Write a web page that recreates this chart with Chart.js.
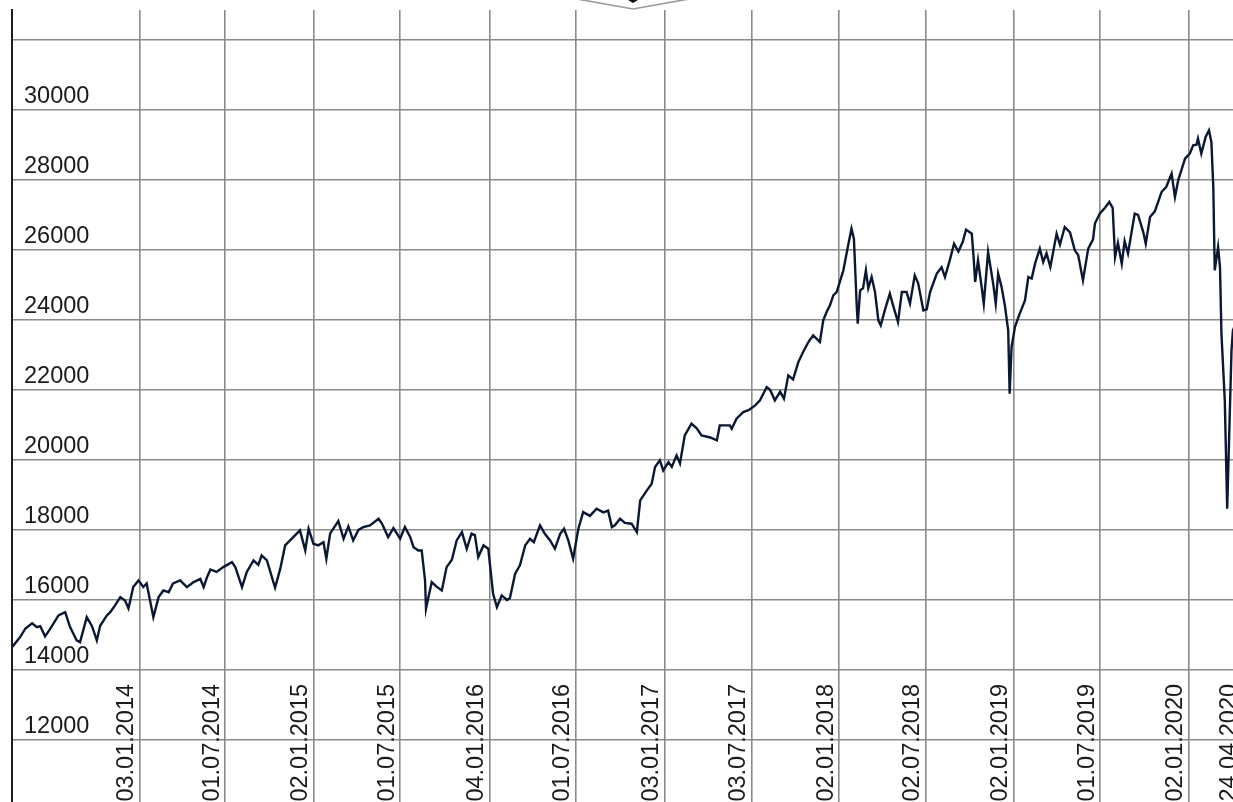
<!DOCTYPE html>
<html><head><meta charset="utf-8">
<script src="https://cdn.jsdelivr.net/npm/chart.js@4.4.1/dist/chart.umd.min.js"></script>
<style>
html,body{margin:0;padding:0;background:#fff;overflow:hidden;width:1233px;height:802px}
#wrap{position:absolute;left:0;top:0;width:1250px;height:810px}
</style>
</head><body>
<div id="wrap"><canvas id="c" width="1250" height="810"></canvas></div>
<script>
// x values: days since 03.01.2014
const baseDate = '03.01.2014';
const dayOffsets = [
-266,-249,-238,-224,-214,-207,-197,-186,-169,-155,-145,-131,-124,-110,-99,-89,-82,-68,-61,-51,-40,-30,-23,-13,-2,
8,15,29,40,50,61,70,85,99,113,127,134,141,148,161,175,193,200,214,224,238,248,255,266,283,294,304,321,335,346,353,
363,373,384,390,398,415,426,436,446,457,467,481,499,506,519,530,544,554,565,572,582,589,596,598,603,610,620,631,641,
652,662,673,683,693,700,707,718,728,732,738,746,756,767,773,784,794,805,815,823,836,846,857,867,878,886,895,905,916,
926,940,954,968,978,986,992,1003,1013,1027,1038,1045,1059,1069,1076,1086,1093,1104,1111,1121,1128,1138,1152,1163,
1173,1191,1205,1211,1232,1236,1246,1260,1271,1285,1295,1309,1316,1326,1337,1345,1354,1364,1375,1385,1396,1406,1420,
1427,1434,1441,1448,1455,1469,1479,1486,1491,1497,1499,1504,1510,1516,1521,1528,1535,1542,1547,1556,1566,1573,1583,
1591,1601,1608,1618,1625,1636,1643,1650,1664,1674,1681,1691,1700,1709,1718,1725,1737,1741,1744,1750,1757,1762,1771,
1782,1787,1792,1799,1806,1813,1816,1820,1827,1837,1848,1855,1862,1869,1879,1886,1893,1901,1914,1921,1931,1942,1952,
1959,1969,1980,1990,1994,2004,2015,2024,2031,2036,2042,2050,2056,2063,2077,2084,2095,2100,2109,2119,2133,2143,2154,
2161,2168,2182,2192,2199,2206,2209,2216,2225,2232,2237,2241,2244,2251,2255,2258,2265,2270,2279,2282,2288,2296,2303
];
const values = [
14650,14940,15185,15330,15220,15250,14960,15180,15557,15650,15230,14843,14794,15508,15250,14843,15260,15557,15650,15843,16080,15980,15757,16366,16557,
16370,16470,15508,16080,16271,16220,16471,16557,16366,16510,16600,16366,16650,16870,16800,16937,17080,16937,16366,16800,17128,17000,17271,17128,16348,16900,17557,17794,17985,17414,18034,
17605,17560,17650,17177,17900,18251,17748,18100,17700,18000,18080,18130,18320,18180,17794,18050,17748,18080,17800,17508,17414,17414,16557,15748,16080,16509,16380,16271,16937,
17150,17700,17937,17462,17891,17850,17223,17557,17462,16937,16177,15794,16128,16000,16050,16748,16986,17557,17748,17650,18128,17891,17700,17462,17891,18034,17700,17177,18034,
18508,18400,18605,18500,18550,18080,18130,18320,18200,18177,17937,18843,19128,19320,19794,19985,19700,19937,19800,20128,19900,20700,21034,20900,
20700,20640,20557,20985,20985,20891,21177,21366,21420,21557,21700,22080,22000,21700,21950,21748,22414,22300,22794,23080,23366,23557,23366,
23985,24223,24414,24700,24794,25414,26128,26605,26320,24366,23891,24843,24900,25414,24900,25223,24800,23985,23843,24300,24748,24400,23937,
24794,24794,24462,25271,25050,24271,24300,24794,25320,25500,25223,25700,26177,25950,26220,26577,26462,25748,25080,25700,25000,24462,25937,
25000,24462,25320,24950,24414,23700,21891,23223,23794,24177,24557,25223,25180,25605,26034,25651,25900,25508,26462,26150,26651,26500,25985,
25850,25128,26034,26300,26749,27034,27200,27366,27200,25794,26200,25605,26250,25900,27034,27000,26500,26177,26937,27100,27651,27800,28177,
27508,28000,28605,28748,28985,29000,29177,28748,29223,29414,29080,27794,25414,26080,25508,23605,21700,18605,23128,23700,23900,24240,23775
];
const xTickLabels = ['03.01.2014','01.07.2014','02.01.2015','01.07.2015','04.01.2016','01.07.2016','03.01.2017',
  '03.07.2017','02.01.2018','02.07.2018','02.01.2019','01.07.2019','02.01.2020','24.04.2020'];
const yTickValues = [12000,14000,16000,18000,20000,22000,24000,26000,28000,30000,32000];
const yTickLabels = ['12000','14000','16000','18000','20000','22000','24000','26000','28000','30000',''];

function parseDay(s){ const [d,m,y]=s.split('.').map(Number); return Date.UTC(y,m-1,d)/86400000; }
const base = parseDay(baseDate);
const xTickDays = xTickLabels.map(s => parseDay(s) - base);

const points = dayOffsets.map((d,i) => ({x: d, y: values[i]}));
const font = {family: "'Liberation Sans', Arial, sans-serif", size: 23.5};
const gridColor = '#8a8a8a';
const noPad = s => { s.paddingLeft = 0; s.paddingRight = 0; s.paddingTop = 0; s.paddingBottom = 0; };

const chevron = {
  id: 'chevron',
  afterDraw(chart){
    const ctx = chart.ctx;
    ctx.save();
    ctx.strokeStyle = '#9a9a9a'; ctx.lineWidth = 1.6;
    ctx.beginPath(); ctx.moveTo(577,-1); ctx.lineTo(633,9); ctx.lineTo(689,-1); ctx.stroke();
    ctx.fillStyle = '#111';
    ctx.beginPath(); ctx.moveTo(628,0); ctx.lineTo(638,0); ctx.lineTo(633,3); ctx.closePath(); ctx.fill();
    ctx.restore();
  }
};

new Chart(document.getElementById('c'), {
  type: 'line',
  data: { datasets: [{ data: points, borderColor: '#0a1833', borderWidth: 2.4, pointRadius: 0, tension: 0, fill: false }] },
  options: {
    responsive: false, animation: false, devicePixelRatio: 1,
    layout: { padding: { left: 12, top: 10, right: 7, bottom: 0 } },
    plugins: { legend: { display: false }, tooltip: { enabled: false } },
    scales: {
      x: {
        type: 'linear', position: { y: 14000 },
        min: dayOffsets[0], max: xTickDays[xTickDays.length - 1],
        afterBuildTicks: s => { s.ticks = xTickDays.map(v => ({ value: v })); },
        afterFit: noPad,
        grid: { color: gridColor, lineWidth: 1.6, drawTicks: false },
        border: { display: false },
        ticks: { autoSkip: false, minRotation: 90, maxRotation: 90, padding: 14, labelOffset: -13,
                 font, color: '#1a1a1a', callback: (v, i) => xTickLabels[i] }
      },
      y: {
        type: 'linear', position: 'left', min: 10000, max: 32850,
        afterBuildTicks: s => { s.ticks = yTickValues.map(v => ({ value: v })); },
        afterFit: s => { noPad(s); s.width = 0; },
        grid: { color: gridColor, lineWidth: 1.6, drawTicks: false },
        border: { display: true, color: '#1e1e1e', width: 2 },
        ticks: { mirror: true, padding: 12, labelOffset: -13, font, color: '#1a1a1a',
                 callback: (v, i) => yTickLabels[i] }
      }
    }
  },
  plugins: [chevron]
});
</script>
</body></html>
